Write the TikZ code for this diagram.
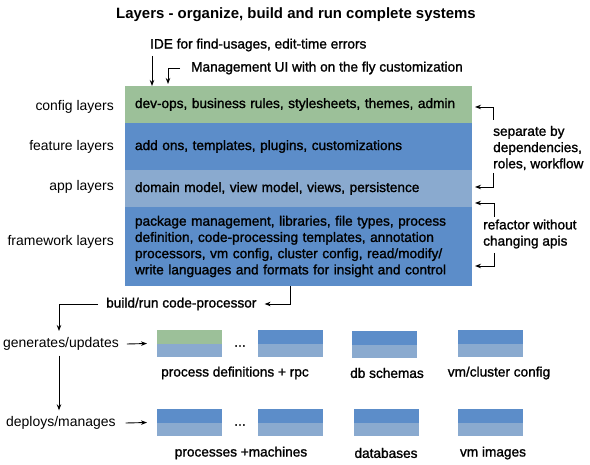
\documentclass[tikz,border=0pt]{standalone}
\usepackage{fontspec}
\setmainfont{Liberation Sans}
\newfontfamily\medfont[FakeBold=1.3]{Liberation Sans}
\usetikzlibrary{arrows.meta,calc}
\definecolor{cgreen}{HTML}{9CC099}
\definecolor{cblue}{HTML}{5C8DC9}
\definecolor{clight}{HTML}{8AAACF}
\begin{document}
\begin{tikzpicture}[x=1bp,y=-1bp,
 med/.style={font=\medfont\fontsize{13.7}{16.3}\selectfont},
 reg/.style={font=\fontsize{14}{16}\selectfont},
 layer/.style={anchor=north west, minimum width=347bp, text width=327bp, inner xsep=10bp, inner ysep=0pt, outer sep=0pt, align=left, med},
 arr/.style={-{Stealth[length=6bp,width=4.5bp]}, line width=0.9bp},
 mini/.style={anchor=north west, minimum width=65bp, minimum height=27bp, inner sep=0pt, outer sep=0pt, fill=clight},
 lbl/.style={reg, anchor=east, inner sep=0pt},
 txt/.style={med, inner sep=0pt},
]
\useasboundingbox (0,0) rectangle (590,465);
\node[font=\bfseries\fontsize{15}{18}\selectfont] (title) at (296,15) {Layers - organize, build and run complete systems};

\node[layer, fill=cgreen, minimum height=37bp] (config) at (125,86) {\hyphenpenalty=10000 dev-ops, business rules, stylesheets, themes, admin};
\node[layer, fill=cblue, minimum height=47bp] (feature) at (125,123) {add ons, templates, plugins, customizations};
\node[layer, fill=clight, minimum height=37bp] (app) at (125,170) {domain model, view model, views, persistence};
\node[layer, fill=cblue, minimum height=79bp] (framework) at (125,207) {package management, libraries, file types, process\\definition, code-processing templates, annotation\\processors, vm config, cluster config, read/modify/\\write languages and formats for insight and control};

\node[lbl] (lconfig) at (114,107) {config layers};
\node[lbl] (lfeature) at (114,147) {feature layers};
\node[lbl] (lapp) at (114,187) {app layers};
\node[lbl] (lframework) at (114,242) {framework layers};

\node[txt, anchor=west] (ide) at (150,45) {IDE for find-usages, edit-time errors};
\coordinate (ideS) at (152,56);
\draw[arr] (ideS) -- (ideS |- config.north);
\node[txt, anchor=west] (mgmt) at (191,68) {Management UI with on the fly customization};
\draw[arr] ($(mgmt.west)+(-11,0)$) -| ($(config.north west)+(43,-2)$);

\node[txt, anchor=west, align=left] (sep) at (493,148) {separate by\\dependencies,\\roles, workflow};
\draw[arr] (493,120) |- ($(config.east)+(3,2.5)$);
\draw[arr] (493,173) |- ($(app.east)+(3,-1.5)$);
\node[txt, anchor=west, align=left] (ref) at (483,234) {refactor without\\changing apis};
\draw[arr] (494,217) |- ($(framework.north east)+(3,-4)$);
\draw[arr] (494,253) |- ($(framework.south east)+(3,-20)$);

\node[txt, anchor=west] (build) at (106,304) {build/run code-processor};
\draw[arr] ($(framework.south west)+(165,0)$) |- ($(build.east)+(8,0)$);
\node[reg, anchor=west, inner sep=0pt] (gen) at (3,344) {generates/updates};
\node[reg, anchor=west, inner sep=0pt] (dep) at (6,423) {deploys/manages};
\coordinate (gtop) at (59,331);
\draw[arr] ($(build.west)+(-8,0)$) -| (gtop);
\draw[arr] (gen.south -| gtop) ++(0,5) -- ($(dep.north -| gtop)+(0,-6)$);

\node[mini] (a1) at (157,330) {};
\node[mini] (a2) at (258,330) {};
\node[mini] (a3) at (352,331) {};
\node[mini] (a4) at (458,330) {};
\fill[cgreen] (a1.north west) rectangle (a1.east);
\fill[cblue] (a2.north west) rectangle (a2.east);
\fill[cblue] (a3.north west) rectangle (a3.east);
\fill[cblue] (a4.north west) rectangle (a4.east);
\node[txt] (d1) at (240,346) {...};
\draw[arr] ($(gen.east)+(8,0)$) -- ($(a1.west)+(-10,0)$);

\node[mini] (b1) at (157,409) {};
\node[mini] (b2) at (258,409) {};
\node[mini] (b3) at (354,409) {};
\node[mini] (b4) at (458,409) {};
\fill[cblue] (b1.north west) rectangle (b1.east);
\fill[cblue] (b2.north west) rectangle (b2.east);
\fill[cblue] (b3.north west) rectangle (b3.east);
\fill[cblue] (b4.north west) rectangle (b4.east);
\node[txt] (d2) at (240,425) {...};
\draw[arr] ($(dep.east)+(10,0)$) -- ($(b1.west)+(-10,0)$);

\node[txt] (la1) at (235,373) {process definitions + rpc};
\node[txt] (la3) at (387,373) {db schemas};
\node[txt] (la4) at (499,373) {vm/cluster config};
\node[txt] (lb1) at (241,453) {processes +machines};
\node[txt] (lb3) at (386,453) {databases};
\node[txt] (lb4) at (493,453) {vm images};
\end{tikzpicture}
\end{document}
